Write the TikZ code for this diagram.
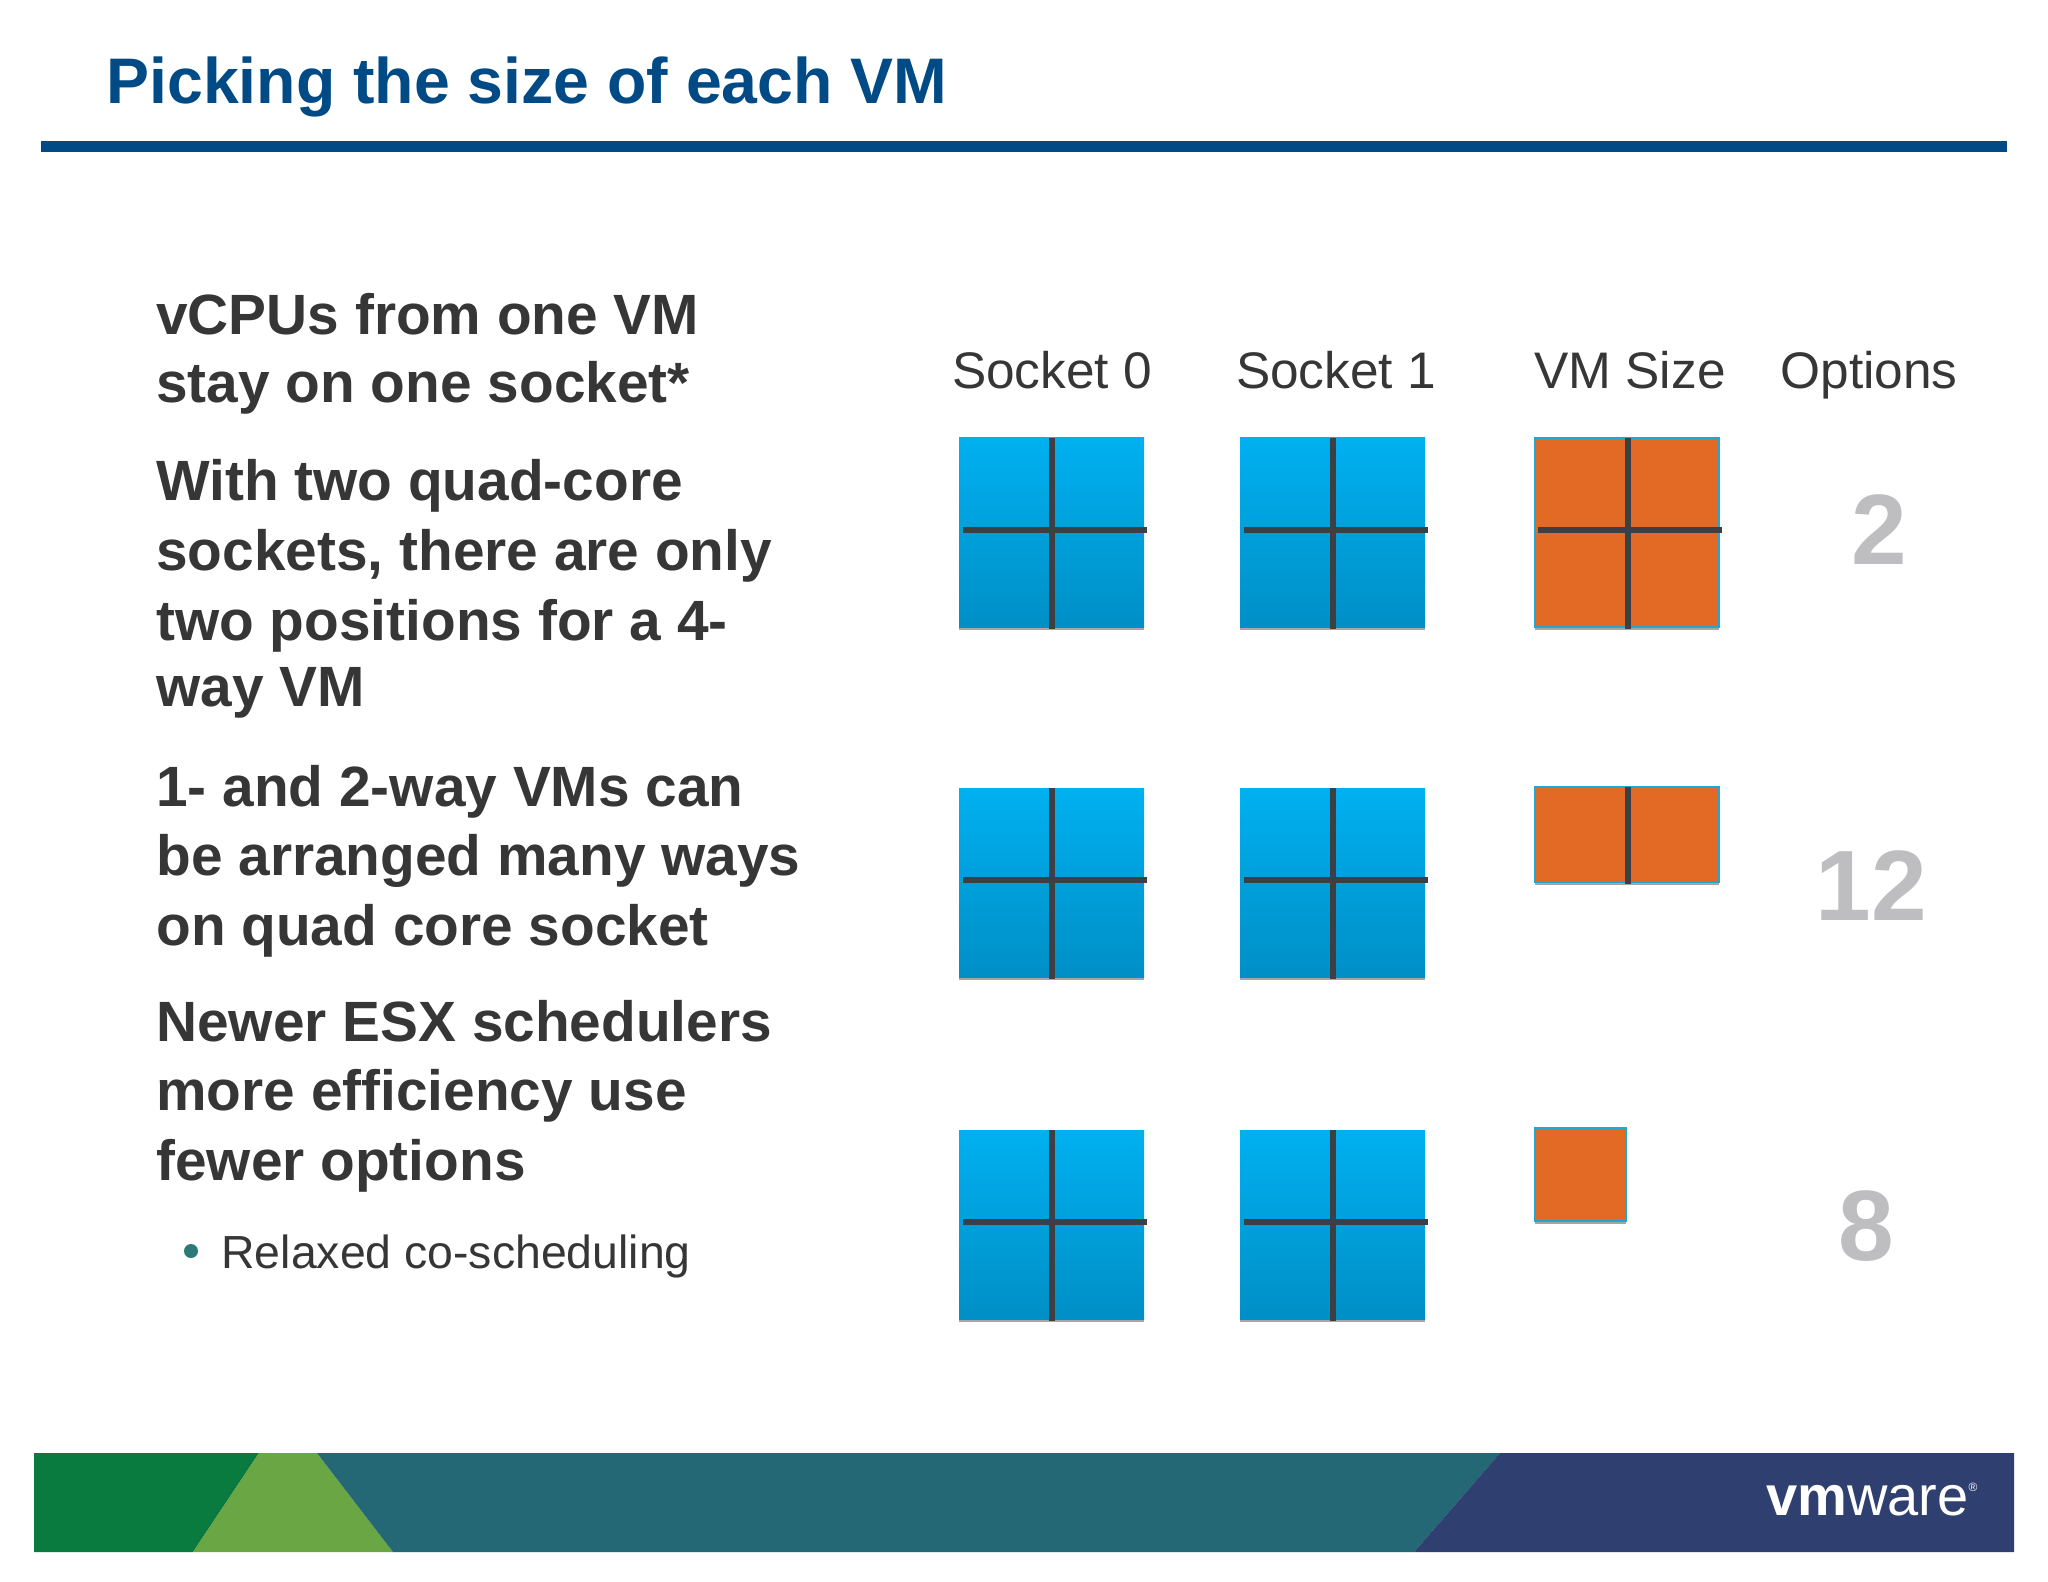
\documentclass[tikz,border=0pt]{standalone}
\usepackage{fontspec}
\setmainfont{Liberation Sans}
\usetikzlibrary{shadows}
\definecolor{headblue}{HTML}{004A86}
\definecolor{bodygrey}{HTML}{363636}
\definecolor{numgrey}{HTML}{BEBDBF}
\definecolor{coreline}{HTML}{3C4044}
\definecolor{vmorange}{HTML}{E26A25}
\definecolor{vmedge}{HTML}{1FA8D2}
\definecolor{socktop}{HTML}{00B0F0}
\definecolor{sockbot}{HTML}{008FC6}
\definecolor{bandgreen}{HTML}{0A7B3E}
\definecolor{bandlime}{HTML}{6BA644}
\definecolor{bandteal}{HTML}{236874}
\definecolor{bandnavy}{HTML}{2F3F70}
\definecolor{bullet}{HTML}{2B7A78}
\tikzset{
    point/.style={anchor=base west, inner sep=0pt, text=bodygrey, font=\fontsize{28.4}{30}\selectfont\bfseries},
    head/.style={anchor=base, inner sep=0pt, text=bodygrey, font=\fontsize{25.7}{30}\selectfont},
    count/.style={anchor=base, inner sep=0pt, text=numgrey, font=\fontsize{50}{60}\selectfont\bfseries},
    softshadow/.style={drop shadow={shadow xshift=0pt, shadow yshift=-1.5pt, opacity=.35, fill=black}},
    socket/.style={top color=socktop, bottom color=sockbot, softshadow},
    vmbox/.style={fill=vmorange, draw=vmedge, line width=1pt, softshadow},
    core/.style={draw=coreline, line width=3pt}
}
\begin{document}
\begin{tikzpicture}[x=.5pt, y=-.5pt]
    \useasboundingbox (0, 0) rectangle (2048, 1582);
    \fill[white] (0, 0) rectangle (2048, 1582);

    % title
    \node[point, text=headblue, font=\fontsize{32.2}{36}\selectfont\bfseries] (title) at (106, 104) {Picking the size of each VM};
    \fill[headblue] (41, 141) rectangle (2007, 152);

    % left column
    \node[point] (a1) at (156, 335) {vCPUs from one VM};
    \node[point] (a2) at (156, 403) {stay on one socket*};
    \node[point] (b1) at (156, 501) {With two quad-core};
    \node[point] (b2) at (156, 571) {sockets, there are only};
    \node[point] (b3) at (156, 640) {two positions for a 4-};
    \node[point] (b4) at (156, 706) {way VM};
    \node[point] (c1) at (156, 806) {1- and 2-way VMs can};
    \node[point] (c2) at (156, 875) {be arranged many ways};
    \node[point] (c3) at (156, 945) {on quad core socket};
    \node[point] (d1) at (156, 1041) {Newer ESX schedulers};
    \node[point] (d2) at (156, 1110) {more efficiency use};
    \node[point] (d3) at (156, 1180) {fewer options};
    \fill[bullet] (191, 1251) circle (7);
    \node[point, font=\fontsize{23.2}{28}\selectfont] (e1) at (221, 1268) {Relaxed co-scheduling};

    % column heads
    \node[head] (h0) at (1052, 389) {Socket 0};
    \node[head] (h1) at (1336, 389) {Socket 1};
    \node[head] (h2) at (1630, 389) {VM Size};
    \node[head] (h3) at (1869, 389) {Options};

    % sockets
    \foreach \rowtop in {438, 788, 1130} {
        \foreach \colleft in {959, 1240} {
            \fill[socket] (\colleft, \rowtop) rectangle ++(185, 189);
            \draw[core] (\colleft+93, \rowtop) -- ++(0, 191);
            \draw[core] (\colleft+4, \rowtop+92) -- ++(184, 0);
        }
    }

    % vm sizes
    \draw[vmbox] (1535, 438) rectangle (1719, 627);
    \draw[core] (1628, 438) -- (1628, 629);
    \draw[core] (1538, 530) -- (1722, 530);
    \draw[vmbox] (1535, 787) rectangle (1719, 882);
    \draw[core] (1628, 787) -- (1628, 884);
    \draw[vmbox] (1535, 1128) rectangle (1626, 1221);

    % option counts
    \node[count] (n2) at (1879, 565) {2};
    \node[count] (n12) at (1871, 920) {12};
    \node[count] (n8) at (1866, 1260) {8};

    % footer band
    \fill[bandgreen] (34, 1453) -- (259, 1453) -- (193, 1552) -- (34, 1552) -- cycle;
    \fill[bandlime] (259, 1453) -- (317, 1453) -- (393, 1552) -- (193, 1552) -- cycle;
    \fill[bandteal] (317, 1453) -- (1500, 1453) -- (1414, 1552) -- (393, 1552) -- cycle;
    \fill[bandnavy] (1500, 1453) -- (2014, 1453) -- (2014, 1552) -- (1414, 1552) -- cycle;
    \node[anchor=base west, inner sep=0pt, text=white, font=\fontsize{28}{30}\selectfont] (logo) at (1766, 1515) {\textbf{vm}ware\raisebox{.8ex}{\fontsize{6}{7}\selectfont ®}};
\end{tikzpicture}
\end{document}
